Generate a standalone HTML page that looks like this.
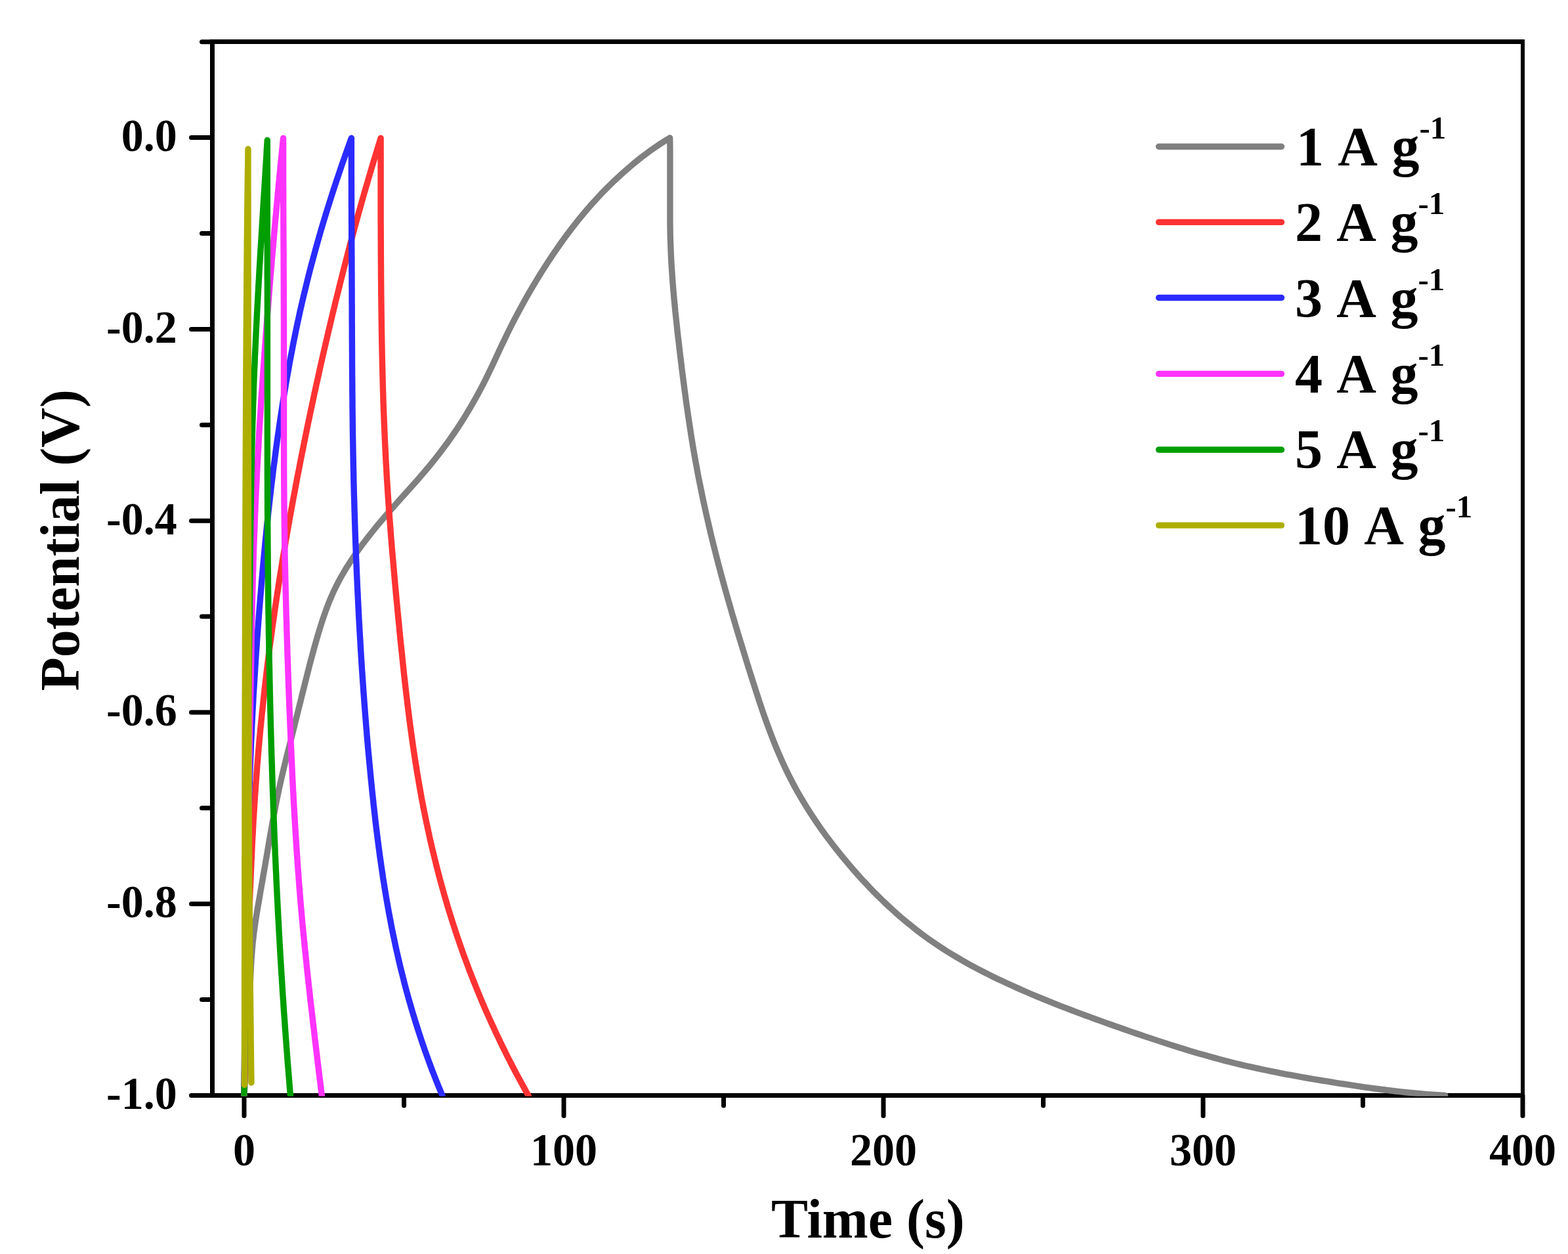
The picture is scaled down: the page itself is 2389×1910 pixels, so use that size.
<!DOCTYPE html>
<html lang="en"><head><meta charset="utf-8"><title>GCD curves</title>
<style>html,body{margin:0;padding:0;background:#fff;}body{width:2389px;height:1910px;overflow:hidden;}svg{display:block;}</style>
</head><body>
<svg width="2389" height="1910" viewBox="0 0 2389 1910">
<rect width="2389" height="1910" fill="#fff"/>
<g stroke="#000" stroke-width="7" fill="none" stroke-linecap="round">
<g stroke="none" fill="#000"><rect x="320" y="60" width="7" height="1612"/><rect x="320" y="60" width="2003" height="7"/><rect x="2317" y="60" width="6" height="1612"/><rect x="320" y="1665" width="2003" height="7"/></g>
<line x1="307.5" y1="63.7" x2="323.5" y2="63.7"/>
<line x1="291.5" y1="209.6" x2="323.5" y2="209.6"/>
<line x1="307.5" y1="355.5" x2="323.5" y2="355.5"/>
<line x1="291.5" y1="501.4" x2="323.5" y2="501.4"/>
<line x1="307.5" y1="647.3" x2="323.5" y2="647.3"/>
<line x1="291.5" y1="793.2" x2="323.5" y2="793.2"/>
<line x1="307.5" y1="939.1" x2="323.5" y2="939.1"/>
<line x1="291.5" y1="1084.9" x2="323.5" y2="1084.9"/>
<line x1="307.5" y1="1230.8" x2="323.5" y2="1230.8"/>
<line x1="291.5" y1="1376.7" x2="323.5" y2="1376.7"/>
<line x1="307.5" y1="1522.6" x2="323.5" y2="1522.6"/>
<line x1="291.5" y1="1668.5" x2="323.5" y2="1668.5"/>
<line x1="372.0" y1="1668.5" x2="372.0" y2="1699.5"/>
<line x1="615.5" y1="1668.5" x2="615.5" y2="1684.0"/>
<line x1="859.0" y1="1668.5" x2="859.0" y2="1699.5"/>
<line x1="1102.5" y1="1668.5" x2="1102.5" y2="1684.0"/>
<line x1="1346.0" y1="1668.5" x2="1346.0" y2="1699.5"/>
<line x1="1589.5" y1="1668.5" x2="1589.5" y2="1684.0"/>
<line x1="1833.0" y1="1668.5" x2="1833.0" y2="1699.5"/>
<line x1="2076.5" y1="1668.5" x2="2076.5" y2="1684.0"/>
<line x1="2320.0" y1="1668.5" x2="2320.0" y2="1699.5"/>
</g>
<clipPath id="pc"><rect x="323.5" y="63.5" width="1996.5" height="1606.2"/></clipPath>
<g fill="none" stroke-width="9.4" stroke-linecap="round" stroke-linejoin="round" clip-path="url(#pc)">
<path stroke="#808080" d="M372.0 1668.5 L372.5 1660.5 L373.0 1652.5 L373.5 1644.6 L373.9 1636.6 L374.4 1628.6 L374.8 1620.6 L375.2 1612.6 L375.6 1604.6 L376.0 1596.6 L376.4 1588.6 L376.8 1580.6 L377.3 1572.6 L377.7 1564.7 L378.2 1556.7 L378.6 1548.7 L379.1 1540.7 L379.5 1532.7 L379.9 1524.7 L380.3 1516.8 L380.7 1508.8 L381.1 1500.8 L381.4 1492.8 L381.8 1484.7 L382.2 1476.7 L382.6 1468.7 L383.1 1460.7 L383.7 1452.8 L384.3 1444.8 L385.0 1436.8 L385.9 1428.9 L386.8 1420.9 L387.9 1413.0 L389.0 1405.1 L390.2 1397.2 L391.5 1389.3 L392.8 1381.5 L394.2 1373.6 L395.6 1365.7 L396.9 1357.8 L398.3 1350.0 L399.7 1342.1 L401.0 1334.2 L402.4 1326.4 L403.8 1318.5 L405.1 1310.6 L406.5 1302.7 L407.8 1294.8 L409.2 1287.0 L410.5 1279.1 L411.9 1271.2 L413.3 1263.3 L414.7 1255.4 L416.1 1247.5 L417.6 1239.7 L419.1 1231.8 L420.6 1223.9 L422.1 1216.1 L423.8 1208.3 L425.4 1200.4 L427.2 1192.6 L428.9 1184.8 L430.8 1177.1 L432.6 1169.3 L434.5 1161.6 L436.4 1153.8 L438.4 1146.1 L440.3 1138.3 L442.3 1130.6 L444.2 1122.8 L446.2 1115.1 L448.1 1107.3 L450.0 1099.5 L452.0 1091.8 L453.9 1084.0 L455.8 1076.3 L457.8 1068.5 L459.7 1060.7 L461.6 1053.0 L463.6 1045.2 L465.5 1037.5 L467.5 1029.7 L469.4 1022.0 L471.4 1014.2 L473.4 1006.5 L475.5 998.8 L477.6 991.0 L479.7 983.3 L481.9 975.6 L484.1 967.9 L486.4 960.3 L488.8 952.6 L491.2 945.0 L493.8 937.4 L496.5 929.9 L499.3 922.4 L502.2 914.9 L505.3 907.6 L508.6 900.3 L512.1 893.1 L515.7 886.0 L519.5 879.0 L523.5 872.1 L527.6 865.2 L531.9 858.4 L536.3 851.7 L540.8 845.1 L545.4 838.6 L550.1 832.1 L554.9 825.7 L559.8 819.3 L564.7 813.1 L569.7 806.8 L574.8 800.6 L579.9 794.5 L585.1 788.4 L590.3 782.4 L595.6 776.3 L600.9 770.3 L606.2 764.4 L611.5 758.4 L616.9 752.5 L622.2 746.5 L627.6 740.5 L632.9 734.6 L638.2 728.6 L643.4 722.5 L648.6 716.4 L653.8 710.3 L658.8 704.1 L663.8 697.9 L668.7 691.6 L673.6 685.2 L678.4 678.8 L683.1 672.4 L687.7 665.8 L692.2 659.3 L696.7 652.6 L701.1 645.9 L705.4 639.2 L709.6 632.4 L713.7 625.5 L717.8 618.6 L721.8 611.7 L725.7 604.7 L729.5 597.7 L733.3 590.6 L737.0 583.5 L740.6 576.3 L744.1 569.2 L747.6 562.0 L751.0 554.7 L754.4 547.5 L757.8 540.3 L761.1 533.0 L764.5 525.8 L768.0 518.6 L771.4 511.4 L774.9 504.2 L778.5 497.0 L782.1 489.9 L785.8 482.8 L789.6 475.7 L793.4 468.7 L797.2 461.7 L801.1 454.7 L805.1 447.7 L809.1 440.8 L813.2 433.9 L817.3 427.1 L821.5 420.2 L825.7 413.4 L830.0 406.7 L834.3 400.0 L838.7 393.3 L843.2 386.7 L847.7 380.1 L852.3 373.5 L856.9 367.0 L861.6 360.5 L866.4 354.1 L871.3 347.7 L876.2 341.4 L881.1 335.1 L886.2 328.9 L891.3 322.8 L896.5 316.7 L901.8 310.7 L907.2 304.8 L912.6 298.9 L918.1 293.1 L923.7 287.4 L929.4 281.7 L935.1 276.2 L941.0 270.7 L946.9 265.3 L952.8 260.0 L958.9 254.7 L965.0 249.5 L971.2 244.5 L977.4 239.5 L983.8 234.7 L990.2 229.9 L996.8 225.3 L1003.4 220.8 L1010.1 216.5 L1016.9 212.2 L1020.7 210.0 M1020.7 210.0 L1020.8 218.0 L1020.9 226.0 L1020.9 234.0 L1020.9 242.0 L1020.9 250.0 L1020.9 258.0 L1020.9 266.0 L1020.9 274.0 L1020.9 282.0 L1020.9 290.0 L1020.9 298.0 L1020.9 306.0 L1020.9 314.0 L1020.9 322.0 L1020.9 330.0 L1020.9 338.0 L1021.0 346.0 L1021.1 354.0 L1021.3 362.0 L1021.6 370.0 L1021.9 378.0 L1022.2 386.0 L1022.6 394.0 L1023.0 402.0 L1023.5 409.9 L1024.1 417.9 L1024.6 425.9 L1025.2 433.9 L1025.9 441.9 L1026.6 449.8 L1027.3 457.8 L1028.1 465.8 L1028.8 473.7 L1029.7 481.7 L1030.5 489.6 L1031.4 497.6 L1032.2 505.5 L1033.1 513.5 L1034.1 521.4 L1035.0 529.4 L1035.9 537.3 L1036.9 545.3 L1037.9 553.2 L1038.8 561.2 L1039.8 569.1 L1040.8 577.0 L1041.9 585.0 L1042.9 592.9 L1044.0 600.8 L1045.0 608.7 L1046.1 616.7 L1047.3 624.6 L1048.4 632.5 L1049.6 640.4 L1050.8 648.3 L1052.0 656.2 L1053.2 664.1 L1054.5 672.0 L1055.8 679.9 L1057.1 687.8 L1058.5 695.6 L1059.9 703.5 L1061.4 711.4 L1062.8 719.3 L1064.3 727.1 L1065.9 735.0 L1067.5 742.8 L1069.1 750.7 L1070.7 758.5 L1072.4 766.4 L1074.1 774.2 L1075.8 782.0 L1077.6 789.8 L1079.4 797.6 L1081.2 805.4 L1083.0 813.2 L1084.9 821.0 L1086.8 828.8 L1088.8 836.5 L1090.7 844.3 L1092.7 852.0 L1094.7 859.8 L1096.8 867.5 L1098.8 875.2 L1100.9 882.9 L1103.0 890.6 L1105.1 898.3 L1107.3 906.0 L1109.5 913.7 L1111.7 921.4 L1113.9 929.0 L1116.1 936.7 L1118.4 944.4 L1120.6 952.0 L1122.9 959.7 L1125.2 967.3 L1127.5 974.9 L1129.9 982.6 L1132.2 990.2 L1134.6 997.9 L1136.9 1005.5 L1139.3 1013.2 L1141.7 1020.8 L1144.1 1028.5 L1146.5 1036.1 L1149.0 1043.8 L1151.4 1051.4 L1153.9 1059.0 L1156.4 1066.7 L1158.9 1074.3 L1161.5 1081.9 L1164.1 1089.5 L1166.8 1097.1 L1169.5 1104.6 L1172.3 1112.1 L1175.1 1119.6 L1178.0 1127.1 L1181.0 1134.5 L1184.0 1141.9 L1187.2 1149.3 L1190.4 1156.6 L1193.6 1163.8 L1197.0 1171.1 L1200.5 1178.3 L1204.1 1185.4 L1207.8 1192.5 L1211.5 1199.5 L1215.4 1206.5 L1219.4 1213.4 L1223.4 1220.2 L1227.6 1227.1 L1231.8 1233.8 L1236.1 1240.5 L1240.5 1247.2 L1245.0 1253.8 L1249.5 1260.4 L1254.2 1266.9 L1258.9 1273.4 L1263.7 1279.8 L1268.5 1286.2 L1273.5 1292.5 L1278.4 1298.7 L1283.5 1305.0 L1288.6 1311.1 L1293.8 1317.3 L1299.0 1323.3 L1304.3 1329.4 L1309.6 1335.3 L1315.0 1341.3 L1320.5 1347.1 L1326.0 1352.9 L1331.6 1358.7 L1337.3 1364.4 L1343.0 1370.0 L1348.7 1375.5 L1354.6 1381.0 L1360.5 1386.4 L1366.4 1391.7 L1372.4 1397.0 L1378.5 1402.1 L1384.7 1407.2 L1390.9 1412.2 L1397.2 1417.2 L1403.5 1422.0 L1409.9 1426.7 L1416.4 1431.4 L1423.0 1435.9 L1429.6 1440.4 L1436.3 1444.8 L1443.0 1449.1 L1449.8 1453.3 L1456.7 1457.4 L1463.6 1461.4 L1470.5 1465.4 L1477.5 1469.3 L1484.6 1473.1 L1491.6 1476.8 L1498.8 1480.5 L1505.9 1484.1 L1513.1 1487.7 L1520.3 1491.2 L1527.6 1494.6 L1534.9 1498.0 L1542.2 1501.3 L1549.5 1504.6 L1556.8 1507.9 L1564.1 1511.0 L1571.5 1514.2 L1578.9 1517.3 L1586.3 1520.4 L1593.7 1523.4 L1601.1 1526.4 L1608.5 1529.4 L1615.9 1532.3 L1623.4 1535.2 L1630.8 1538.0 L1638.3 1540.9 L1645.8 1543.7 L1653.3 1546.5 L1660.8 1549.2 L1668.3 1552.0 L1675.8 1554.7 L1683.3 1557.4 L1690.8 1560.0 L1698.4 1562.7 L1705.9 1565.3 L1713.5 1568.0 L1721.0 1570.6 L1728.6 1573.2 L1736.2 1575.8 L1743.7 1578.4 L1751.3 1580.9 L1758.9 1583.4 L1766.5 1585.9 L1774.1 1588.4 L1781.8 1590.9 L1789.4 1593.3 L1797.0 1595.7 L1804.7 1598.1 L1812.4 1600.4 L1820.0 1602.7 L1827.7 1604.9 L1835.4 1607.1 L1843.1 1609.3 L1850.8 1611.4 L1858.6 1613.5 L1866.3 1615.6 L1874.0 1617.5 L1881.8 1619.5 L1889.6 1621.3 L1897.4 1623.2 L1905.1 1624.9 L1912.9 1626.7 L1920.8 1628.4 L1928.6 1630.0 L1936.4 1631.6 L1944.3 1633.2 L1952.1 1634.8 L1960.0 1636.3 L1967.8 1637.7 L1975.7 1639.2 L1983.6 1640.6 L1991.4 1642.0 L1999.3 1643.3 L2007.2 1644.6 L2015.1 1646.0 L2023.0 1647.2 L2030.9 1648.5 L2038.8 1649.8 L2046.7 1651.0 L2054.6 1652.2 L2062.5 1653.4 L2070.5 1654.6 L2078.4 1655.8 L2086.3 1656.9 L2094.2 1658.0 L2102.2 1659.0 L2110.1 1660.0 L2118.0 1661.0 L2126.0 1662.0 L2133.9 1662.9 L2141.9 1663.7 L2149.8 1664.5 L2157.8 1665.3 L2165.8 1666.0 L2173.7 1666.6 L2181.7 1667.2 L2189.7 1667.7 L2197.7 1668.2 L2201.7 1668.4"/>
<path stroke="#FF3333" d="M372.0 1668.5 L372.2 1660.5 L372.4 1652.5 L372.6 1644.5 L372.8 1636.5 L373.0 1628.5 L373.2 1620.5 L373.4 1612.5 L373.6 1604.5 L373.8 1596.5 L374.0 1588.5 L374.2 1580.5 L374.4 1572.5 L374.6 1564.5 L374.8 1556.5 L375.1 1548.5 L375.3 1540.5 L375.5 1532.5 L375.7 1524.5 L375.9 1516.5 L376.2 1508.6 L376.4 1500.6 L376.6 1492.6 L376.9 1484.6 L377.1 1476.6 L377.3 1468.6 L377.6 1460.6 L377.8 1452.6 L378.1 1444.6 L378.3 1436.6 L378.6 1428.6 L378.9 1420.6 L379.1 1412.6 L379.4 1404.6 L379.7 1396.6 L380.0 1388.6 L380.2 1380.6 L380.5 1372.6 L380.8 1364.6 L381.1 1356.6 L381.5 1348.6 L381.8 1340.6 L382.1 1332.6 L382.5 1324.7 L382.8 1316.7 L383.2 1308.7 L383.6 1300.7 L383.9 1292.7 L384.3 1284.7 L384.7 1276.7 L385.2 1268.7 L385.6 1260.7 L386.0 1252.8 L386.5 1244.8 L387.0 1236.8 L387.5 1228.8 L388.0 1220.8 L388.5 1212.8 L389.1 1204.9 L389.6 1196.9 L390.2 1188.9 L390.8 1180.9 L391.4 1173.0 L392.0 1165.0 L392.7 1157.0 L393.3 1149.0 L394.0 1141.1 L394.7 1133.1 L395.4 1125.1 L396.2 1117.2 L396.9 1109.2 L397.7 1101.3 L398.5 1093.3 L399.3 1085.3 L400.2 1077.4 L401.0 1069.4 L401.9 1061.5 L402.7 1053.5 L403.6 1045.6 L404.6 1037.6 L405.5 1029.7 L406.4 1021.7 L407.4 1013.8 L408.4 1005.9 L409.4 997.9 L410.4 990.0 L411.4 982.1 L412.5 974.1 L413.6 966.2 L414.6 958.3 L415.7 950.4 L416.9 942.5 L418.0 934.6 L419.1 926.6 L420.3 918.7 L421.5 910.8 L422.7 902.9 L423.9 895.0 L425.1 887.1 L426.3 879.3 L427.6 871.4 L428.9 863.5 L430.1 855.6 L431.4 847.7 L432.8 839.8 L434.1 832.0 L435.4 824.1 L436.8 816.2 L438.1 808.3 L439.5 800.5 L440.9 792.6 L442.3 784.7 L443.7 776.9 L445.2 769.0 L446.6 761.2 L448.1 753.3 L449.6 745.5 L451.0 737.6 L452.5 729.7 L454.0 721.9 L455.6 714.1 L457.1 706.2 L458.6 698.4 L460.2 690.5 L461.8 682.7 L463.3 674.8 L464.9 667.0 L466.5 659.2 L468.1 651.3 L469.7 643.5 L471.4 635.7 L473.0 627.8 L474.7 620.0 L476.4 612.2 L478.0 604.4 L479.7 596.5 L481.4 588.7 L483.1 580.9 L484.9 573.1 L486.6 565.3 L488.3 557.5 L490.1 549.7 L491.9 541.8 L493.7 534.0 L495.5 526.2 L497.3 518.4 L499.1 510.7 L500.9 502.9 L502.8 495.1 L504.6 487.3 L506.5 479.5 L508.4 471.7 L510.2 464.0 L512.1 456.2 L514.1 448.4 L516.0 440.7 L517.9 432.9 L519.9 425.1 L521.8 417.4 L523.8 409.6 L525.8 401.9 L527.8 394.1 L529.8 386.4 L531.8 378.7 L533.9 370.9 L535.9 363.2 L538.0 355.5 L540.1 347.8 L542.2 340.0 L544.3 332.3 L546.4 324.6 L548.6 316.9 L550.7 309.2 L552.9 301.5 L555.1 293.8 L557.3 286.2 L559.6 278.5 L561.8 270.8 L564.1 263.1 L566.3 255.5 L568.6 247.8 L571.0 240.1 L573.3 232.5 L575.6 224.8 L578.0 217.2 L580.1 210.5 M580.1 210.5 L580.1 218.5 L580.1 226.5 L580.1 234.5 L580.1 242.5 L580.1 250.5 L580.1 258.5 L580.1 266.5 L580.1 274.5 L580.1 282.5 L580.1 290.5 L580.1 298.5 L580.1 306.5 L580.1 314.5 L580.1 322.5 L580.1 330.5 L580.1 338.5 L580.2 346.5 L580.2 354.5 L580.2 362.5 L580.3 370.5 L580.3 378.5 L580.3 386.5 L580.4 394.5 L580.4 402.5 L580.5 410.5 L580.5 418.5 L580.6 426.5 L580.7 434.5 L580.7 442.5 L580.8 450.5 L580.9 458.5 L581.0 466.5 L581.1 474.5 L581.2 482.5 L581.3 490.5 L581.4 498.5 L581.5 506.5 L581.7 514.5 L581.8 522.5 L582.0 530.5 L582.1 538.5 L582.3 546.5 L582.5 554.5 L582.7 562.5 L582.9 570.5 L583.1 578.5 L583.3 586.5 L583.5 594.5 L583.8 602.5 L584.0 610.5 L584.3 618.5 L584.6 626.5 L584.9 634.5 L585.2 642.5 L585.5 650.5 L585.9 658.5 L586.2 666.5 L586.6 674.5 L587.0 682.5 L587.4 690.5 L587.8 698.4 L588.2 706.4 L588.7 714.4 L589.1 722.4 L589.6 730.4 L590.1 738.4 L590.6 746.3 L591.1 754.3 L591.7 762.3 L592.2 770.3 L592.8 778.2 L593.4 786.2 L594.0 794.2 L594.6 802.1 L595.2 810.1 L595.8 818.1 L596.5 826.0 L597.1 834.0 L597.8 842.0 L598.5 849.9 L599.2 857.9 L599.9 865.9 L600.6 873.8 L601.3 881.8 L602.0 889.8 L602.7 897.7 L603.5 905.7 L604.2 913.6 L605.0 921.6 L605.7 929.6 L606.5 937.5 L607.3 945.5 L608.1 953.5 L608.8 961.4 L609.6 969.4 L610.4 977.4 L611.2 985.3 L612.1 993.3 L612.9 1001.3 L613.7 1009.2 L614.6 1017.2 L615.4 1025.2 L616.3 1033.1 L617.2 1041.1 L618.1 1049.1 L619.0 1057.0 L620.0 1065.0 L620.9 1072.9 L621.9 1080.9 L622.9 1088.8 L623.9 1096.8 L624.9 1104.7 L626.0 1112.6 L627.1 1120.6 L628.2 1128.5 L629.3 1136.4 L630.5 1144.3 L631.7 1152.2 L632.9 1160.2 L634.2 1168.1 L635.4 1175.9 L636.8 1183.8 L638.1 1191.7 L639.5 1199.6 L640.9 1207.5 L642.3 1215.3 L643.8 1223.2 L645.3 1231.0 L646.9 1238.8 L648.5 1246.7 L650.1 1254.5 L651.8 1262.3 L653.5 1270.1 L655.2 1277.9 L657.0 1285.7 L658.8 1293.5 L660.7 1301.2 L662.6 1309.0 L664.5 1316.7 L666.5 1324.5 L668.5 1332.2 L670.5 1339.9 L672.6 1347.6 L674.8 1355.3 L676.9 1363.0 L679.2 1370.7 L681.4 1378.4 L683.7 1386.0 L686.1 1393.6 L688.5 1401.3 L690.9 1408.9 L693.4 1416.5 L695.9 1424.1 L698.5 1431.7 L701.1 1439.2 L703.7 1446.8 L706.4 1454.3 L709.2 1461.9 L712.0 1469.4 L714.8 1476.9 L717.7 1484.3 L720.6 1491.8 L723.6 1499.3 L726.6 1506.7 L729.6 1514.1 L732.7 1521.5 L735.8 1528.9 L739.0 1536.3 L742.2 1543.6 L745.5 1550.9 L748.8 1558.2 L752.2 1565.5 L755.5 1572.8 L759.0 1580.0 L762.4 1587.2 L765.9 1594.4 L769.5 1601.6 L773.0 1608.8 L776.7 1615.9 L780.3 1623.0 L784.0 1630.1 L787.7 1637.1 L791.5 1644.1 L795.3 1651.1 L799.2 1658.1 L803.0 1665.1 L805.2 1668.9"/>
<path stroke="#2B2BFF" d="M372.0 1668.5 L372.0 1660.5 L372.1 1652.5 L372.2 1644.5 L372.2 1636.5 L372.3 1628.5 L372.4 1620.5 L372.5 1612.5 L372.6 1604.5 L372.7 1596.5 L372.8 1588.5 L373.0 1580.5 L373.1 1572.5 L373.2 1564.5 L373.4 1556.5 L373.5 1548.5 L373.6 1540.5 L373.8 1532.5 L373.9 1524.5 L374.1 1516.5 L374.2 1508.5 L374.4 1500.5 L374.5 1492.5 L374.7 1484.5 L374.8 1476.5 L375.0 1468.5 L375.2 1460.5 L375.3 1452.5 L375.4 1444.5 L375.6 1436.5 L375.7 1428.5 L375.9 1420.5 L376.0 1412.5 L376.1 1404.5 L376.3 1396.5 L376.4 1388.5 L376.5 1380.5 L376.6 1372.5 L376.8 1364.5 L376.9 1356.5 L377.0 1348.5 L377.1 1340.5 L377.2 1332.5 L377.4 1324.5 L377.5 1316.5 L377.6 1308.5 L377.8 1300.5 L377.9 1292.5 L378.1 1284.5 L378.2 1276.5 L378.4 1268.5 L378.5 1260.6 L378.7 1252.6 L378.9 1244.6 L379.1 1236.6 L379.3 1228.6 L379.5 1220.6 L379.7 1212.6 L379.9 1204.6 L380.2 1196.6 L380.4 1188.6 L380.7 1180.6 L381.0 1172.6 L381.3 1164.6 L381.6 1156.6 L381.9 1148.6 L382.2 1140.6 L382.5 1132.6 L382.9 1124.6 L383.3 1116.6 L383.6 1108.6 L384.0 1100.6 L384.4 1092.7 L384.8 1084.7 L385.3 1076.7 L385.7 1068.7 L386.1 1060.7 L386.6 1052.7 L387.1 1044.7 L387.6 1036.7 L388.1 1028.8 L388.6 1020.8 L389.1 1012.8 L389.6 1004.8 L390.1 996.8 L390.7 988.8 L391.2 980.9 L391.8 972.9 L392.4 964.9 L393.0 956.9 L393.6 948.9 L394.2 941.0 L394.8 933.0 L395.4 925.0 L396.1 917.0 L396.7 909.1 L397.4 901.1 L398.1 893.1 L398.7 885.2 L399.4 877.2 L400.1 869.2 L400.8 861.3 L401.6 853.3 L402.3 845.3 L403.1 837.4 L403.8 829.4 L404.6 821.5 L405.4 813.5 L406.2 805.5 L407.0 797.6 L407.9 789.6 L408.7 781.7 L409.6 773.7 L410.5 765.8 L411.4 757.8 L412.3 749.9 L413.2 742.0 L414.2 734.0 L415.2 726.1 L416.1 718.1 L417.1 710.2 L418.2 702.3 L419.2 694.3 L420.2 686.4 L421.3 678.5 L422.4 670.5 L423.5 662.6 L424.7 654.7 L425.8 646.8 L427.0 638.9 L428.2 630.9 L429.4 623.0 L430.6 615.1 L431.9 607.2 L433.2 599.3 L434.5 591.4 L435.8 583.5 L437.2 575.6 L438.6 567.8 L440.0 559.9 L441.4 552.0 L442.9 544.1 L444.4 536.3 L445.9 528.4 L447.4 520.6 L449.0 512.7 L450.6 504.9 L452.2 497.1 L453.9 489.2 L455.6 481.4 L457.3 473.6 L459.1 465.8 L460.9 458.0 L462.7 450.2 L464.6 442.5 L466.5 434.7 L468.4 426.9 L470.3 419.2 L472.3 411.4 L474.3 403.7 L476.4 396.0 L478.5 388.3 L480.6 380.6 L482.7 372.9 L484.9 365.2 L487.1 357.5 L489.3 349.8 L491.6 342.1 L493.9 334.5 L496.2 326.8 L498.6 319.2 L501.0 311.6 L503.4 303.9 L505.8 296.3 L508.3 288.7 L510.8 281.1 L513.3 273.5 L515.9 265.9 L518.4 258.4 L521.0 250.8 L523.7 243.2 L526.3 235.7 L529.0 228.2 L531.7 220.6 L534.4 213.1 L535.4 210.5 M535.4 210.5 L535.4 218.5 L535.4 226.5 L535.4 234.5 L535.4 242.5 L535.4 250.5 L535.4 258.5 L535.4 266.5 L535.4 274.5 L535.5 282.5 L535.5 290.5 L535.5 298.5 L535.5 306.5 L535.5 314.5 L535.6 322.5 L535.6 330.5 L535.6 338.5 L535.7 346.5 L535.7 354.5 L535.7 362.5 L535.7 370.5 L535.8 378.5 L535.8 386.5 L535.9 394.5 L535.9 402.5 L535.9 410.5 L536.0 418.5 L536.0 426.5 L536.0 434.5 L536.1 442.5 L536.1 450.5 L536.1 458.5 L536.2 466.5 L536.2 474.5 L536.2 482.5 L536.2 490.5 L536.3 498.5 L536.3 506.5 L536.3 514.5 L536.4 522.5 L536.4 530.5 L536.5 538.5 L536.5 546.5 L536.5 554.5 L536.6 562.5 L536.6 570.5 L536.7 578.5 L536.8 586.5 L536.8 594.5 L536.9 602.5 L537.0 610.5 L537.0 618.5 L537.1 626.5 L537.2 634.5 L537.3 642.5 L537.4 650.5 L537.5 658.5 L537.6 666.5 L537.8 674.5 L537.9 682.5 L538.0 690.5 L538.2 698.5 L538.3 706.5 L538.5 714.5 L538.7 722.5 L538.8 730.5 L539.0 738.5 L539.2 746.5 L539.4 754.5 L539.7 762.5 L539.9 770.5 L540.1 778.5 L540.4 786.5 L540.6 794.5 L540.9 802.4 L541.1 810.4 L541.4 818.4 L541.7 826.4 L542.0 834.4 L542.3 842.4 L542.6 850.4 L543.0 858.4 L543.3 866.4 L543.6 874.4 L544.0 882.4 L544.3 890.4 L544.7 898.3 L545.1 906.3 L545.5 914.3 L545.9 922.3 L546.3 930.3 L546.7 938.3 L547.1 946.3 L547.6 954.3 L548.0 962.3 L548.5 970.2 L549.0 978.2 L549.4 986.2 L549.9 994.2 L550.4 1002.2 L550.9 1010.2 L551.4 1018.2 L552.0 1026.2 L552.5 1034.1 L553.1 1042.1 L553.6 1050.1 L554.2 1058.1 L554.8 1066.1 L555.4 1074.1 L556.0 1082.0 L556.6 1090.0 L557.3 1098.0 L557.9 1106.0 L558.6 1113.9 L559.2 1121.9 L559.9 1129.9 L560.6 1137.9 L561.3 1145.8 L562.1 1153.8 L562.8 1161.8 L563.6 1169.7 L564.3 1177.7 L565.1 1185.7 L565.9 1193.6 L566.7 1201.6 L567.5 1209.5 L568.4 1217.5 L569.2 1225.4 L570.1 1233.4 L571.0 1241.3 L571.9 1249.3 L572.8 1257.2 L573.8 1265.1 L574.8 1273.1 L575.8 1281.0 L576.8 1288.9 L577.9 1296.9 L578.9 1304.8 L580.1 1312.7 L581.2 1320.6 L582.4 1328.5 L583.5 1336.4 L584.8 1344.3 L586.0 1352.2 L587.3 1360.1 L588.6 1368.0 L590.0 1375.8 L591.4 1383.7 L592.8 1391.6 L594.3 1399.4 L595.8 1407.3 L597.3 1415.1 L598.9 1423.0 L600.6 1430.8 L602.2 1438.6 L603.9 1446.5 L605.7 1454.3 L607.5 1462.1 L609.3 1469.9 L611.2 1477.7 L613.2 1485.4 L615.1 1493.2 L617.1 1501.0 L619.2 1508.7 L621.3 1516.4 L623.5 1524.2 L625.7 1531.9 L627.9 1539.5 L630.2 1547.2 L632.6 1554.9 L635.0 1562.5 L637.4 1570.2 L639.9 1577.8 L642.4 1585.4 L645.0 1592.9 L647.6 1600.5 L650.3 1608.0 L653.0 1615.5 L655.8 1623.0 L658.6 1630.5 L661.5 1637.9 L664.4 1645.4 L667.4 1652.8 L670.4 1660.1 L673.5 1667.5 L674.1 1668.9"/>
<path stroke="#FF33FF" d="M372.0 1668.5 L372.1 1660.5 L372.3 1652.5 L372.4 1644.5 L372.5 1636.5 L372.7 1628.5 L372.8 1620.5 L372.9 1612.5 L373.0 1604.5 L373.2 1596.5 L373.3 1588.5 L373.4 1580.5 L373.5 1572.5 L373.6 1564.5 L373.7 1556.5 L373.8 1548.5 L374.0 1540.5 L374.1 1532.5 L374.2 1524.5 L374.3 1516.5 L374.4 1508.5 L374.5 1500.5 L374.6 1492.5 L374.7 1484.5 L374.8 1476.5 L374.9 1468.5 L375.0 1460.5 L375.1 1452.5 L375.3 1444.5 L375.4 1436.5 L375.5 1428.5 L375.6 1420.5 L375.7 1412.5 L375.8 1404.5 L375.9 1396.5 L376.0 1388.5 L376.2 1380.5 L376.3 1372.5 L376.4 1364.5 L376.5 1356.5 L376.7 1348.5 L376.8 1340.5 L376.9 1332.5 L377.0 1324.5 L377.2 1316.5 L377.3 1308.5 L377.4 1300.5 L377.6 1292.5 L377.7 1284.5 L377.8 1276.5 L378.0 1268.5 L378.1 1260.5 L378.3 1252.5 L378.4 1244.5 L378.5 1236.6 L378.7 1228.6 L378.8 1220.6 L379.0 1212.6 L379.1 1204.6 L379.2 1196.6 L379.4 1188.6 L379.5 1180.6 L379.7 1172.6 L379.8 1164.6 L380.0 1156.6 L380.1 1148.6 L380.2 1140.6 L380.4 1132.6 L380.5 1124.6 L380.7 1116.6 L380.8 1108.6 L380.9 1100.6 L381.1 1092.6 L381.2 1084.6 L381.4 1076.6 L381.5 1068.6 L381.6 1060.6 L381.8 1052.6 L381.9 1044.6 L382.0 1036.6 L382.2 1028.6 L382.3 1020.6 L382.5 1012.6 L382.6 1004.6 L382.8 996.6 L382.9 988.6 L383.1 980.6 L383.2 972.6 L383.4 964.6 L383.5 956.6 L383.7 948.6 L383.9 940.6 L384.0 932.6 L384.2 924.6 L384.4 916.6 L384.6 908.6 L384.8 900.6 L385.0 892.6 L385.2 884.6 L385.4 876.6 L385.7 868.6 L385.9 860.6 L386.1 852.6 L386.4 844.6 L386.6 836.6 L386.9 828.6 L387.2 820.6 L387.5 812.6 L387.8 804.7 L388.1 796.7 L388.4 788.7 L388.7 780.7 L389.1 772.7 L389.4 764.7 L389.8 756.7 L390.1 748.7 L390.5 740.7 L390.9 732.7 L391.3 724.7 L391.7 716.8 L392.1 708.8 L392.6 700.8 L393.0 692.8 L393.5 684.8 L393.9 676.8 L394.4 668.8 L394.8 660.8 L395.3 652.9 L395.8 644.9 L396.3 636.9 L396.8 628.9 L397.3 620.9 L397.8 612.9 L398.3 604.9 L398.9 597.0 L399.4 589.0 L400.0 581.0 L400.5 573.0 L401.1 565.0 L401.6 557.1 L402.2 549.1 L402.8 541.1 L403.4 533.1 L404.0 525.1 L404.6 517.2 L405.2 509.2 L405.8 501.2 L406.4 493.2 L407.0 485.3 L407.6 477.3 L408.2 469.3 L408.9 461.3 L409.5 453.4 L410.2 445.4 L410.8 437.4 L411.5 429.4 L412.1 421.5 L412.8 413.5 L413.5 405.5 L414.1 397.5 L414.8 389.6 L415.5 381.6 L416.2 373.6 L416.9 365.7 L417.6 357.7 L418.3 349.7 L419.0 341.8 L419.7 333.8 L420.5 325.8 L421.2 317.9 L421.9 309.9 L422.7 301.9 L423.4 294.0 L424.2 286.0 L424.9 278.0 L425.7 270.1 L426.5 262.1 L427.2 254.1 L428.0 246.2 L428.8 238.2 L429.6 230.3 L430.4 222.3 L431.2 214.3 L431.6 210.5 M431.6 210.5 L431.6 218.5 L431.6 226.5 L431.6 234.5 L431.6 242.5 L431.6 250.5 L431.6 258.5 L431.6 266.5 L431.6 274.5 L431.6 282.5 L431.7 290.5 L431.7 298.5 L431.7 306.5 L431.7 314.5 L431.8 322.5 L431.8 330.5 L431.8 338.5 L431.9 346.5 L431.9 354.5 L431.9 362.5 L432.0 370.5 L432.0 378.5 L432.1 386.5 L432.1 394.5 L432.1 402.5 L432.2 410.5 L432.2 418.5 L432.2 426.5 L432.3 434.5 L432.3 442.5 L432.3 450.5 L432.4 458.5 L432.4 466.5 L432.4 474.5 L432.4 482.5 L432.5 490.5 L432.5 498.5 L432.5 506.5 L432.5 514.5 L432.5 522.5 L432.5 530.5 L432.5 538.5 L432.5 546.5 L432.5 554.5 L432.5 562.5 L432.5 570.5 L432.5 578.5 L432.5 586.5 L432.5 594.5 L432.5 602.5 L432.5 610.5 L432.5 618.5 L432.5 626.5 L432.5 634.5 L432.5 642.5 L432.5 650.5 L432.5 658.5 L432.5 666.5 L432.5 674.5 L432.5 682.5 L432.6 690.5 L432.6 698.5 L432.6 706.5 L432.6 714.5 L432.7 722.5 L432.7 730.5 L432.8 738.5 L432.8 746.5 L432.9 754.5 L432.9 762.5 L433.0 770.5 L433.1 778.5 L433.2 786.5 L433.3 794.5 L433.4 802.5 L433.5 810.5 L433.6 818.5 L433.7 826.5 L433.9 834.5 L434.0 842.5 L434.1 850.5 L434.3 858.5 L434.5 866.5 L434.6 874.5 L434.8 882.5 L435.0 890.5 L435.2 898.5 L435.4 906.5 L435.6 914.5 L435.8 922.5 L436.0 930.5 L436.2 938.5 L436.5 946.5 L436.7 954.4 L436.9 962.4 L437.2 970.4 L437.4 978.4 L437.7 986.4 L437.9 994.4 L438.2 1002.4 L438.5 1010.4 L438.8 1018.4 L439.0 1026.4 L439.3 1034.4 L439.6 1042.4 L439.9 1050.4 L440.2 1058.4 L440.5 1066.4 L440.8 1074.4 L441.2 1082.4 L441.5 1090.4 L441.8 1098.4 L442.1 1106.4 L442.5 1114.3 L442.8 1122.3 L443.1 1130.3 L443.5 1138.3 L443.9 1146.3 L444.2 1154.3 L444.6 1162.3 L445.0 1170.3 L445.3 1178.3 L445.7 1186.3 L446.1 1194.3 L446.5 1202.3 L447.0 1210.3 L447.4 1218.2 L447.8 1226.2 L448.3 1234.2 L448.7 1242.2 L449.2 1250.2 L449.7 1258.2 L450.2 1266.2 L450.7 1274.1 L451.2 1282.1 L451.7 1290.1 L452.2 1298.1 L452.8 1306.1 L453.3 1314.1 L453.9 1322.0 L454.5 1330.0 L455.1 1338.0 L455.7 1346.0 L456.3 1353.9 L457.0 1361.9 L457.6 1369.9 L458.3 1377.9 L459.0 1385.8 L459.7 1393.8 L460.4 1401.8 L461.2 1409.7 L461.9 1417.7 L462.7 1425.7 L463.5 1433.6 L464.2 1441.6 L465.1 1449.5 L465.9 1457.5 L466.7 1465.4 L467.5 1473.4 L468.4 1481.4 L469.2 1489.3 L470.1 1497.3 L471.0 1505.2 L471.9 1513.2 L472.7 1521.1 L473.6 1529.1 L474.6 1537.0 L475.5 1545.0 L476.4 1552.9 L477.3 1560.9 L478.3 1568.8 L479.2 1576.8 L480.1 1584.7 L481.1 1592.6 L482.0 1600.6 L483.0 1608.5 L483.9 1616.5 L484.9 1624.4 L485.9 1632.4 L486.8 1640.3 L487.8 1648.2 L488.8 1656.2 L489.7 1664.1 L490.3 1668.9"/>
<path stroke="#009E00" d="M372.0 1668.5 L372.1 1660.5 L372.2 1652.5 L372.3 1644.5 L372.4 1636.5 L372.6 1628.5 L372.7 1620.5 L372.8 1612.5 L372.9 1604.5 L372.9 1596.5 L373.0 1588.5 L373.1 1580.5 L373.2 1572.5 L373.3 1564.5 L373.4 1556.5 L373.5 1548.5 L373.6 1540.5 L373.6 1532.5 L373.7 1524.5 L373.8 1516.5 L373.9 1508.5 L374.0 1500.5 L374.0 1492.5 L374.1 1484.5 L374.2 1476.5 L374.3 1468.5 L374.3 1460.5 L374.4 1452.5 L374.5 1444.5 L374.6 1436.5 L374.6 1428.5 L374.7 1420.5 L374.8 1412.5 L374.8 1404.5 L374.9 1396.5 L375.0 1388.5 L375.1 1380.5 L375.1 1372.5 L375.2 1364.5 L375.3 1356.5 L375.4 1348.5 L375.4 1340.5 L375.5 1332.5 L375.6 1324.5 L375.7 1316.5 L375.8 1308.5 L375.8 1300.5 L375.9 1292.5 L376.0 1284.5 L376.1 1276.5 L376.2 1268.5 L376.3 1260.5 L376.4 1252.5 L376.5 1244.5 L376.6 1236.5 L376.7 1228.5 L376.7 1220.5 L376.8 1212.5 L376.9 1204.5 L377.0 1196.5 L377.1 1188.5 L377.2 1180.5 L377.3 1172.5 L377.4 1164.5 L377.5 1156.5 L377.6 1148.5 L377.7 1140.5 L377.8 1132.5 L377.9 1124.5 L378.0 1116.5 L378.1 1108.5 L378.2 1100.5 L378.3 1092.5 L378.4 1084.5 L378.5 1076.5 L378.6 1068.5 L378.7 1060.5 L378.8 1052.5 L378.9 1044.5 L379.0 1036.5 L379.1 1028.5 L379.2 1020.5 L379.3 1012.5 L379.4 1004.5 L379.5 996.5 L379.6 988.5 L379.7 980.5 L379.8 972.5 L379.9 964.5 L380.0 956.5 L380.1 948.5 L380.2 940.5 L380.3 932.5 L380.4 924.5 L380.4 916.5 L380.5 908.5 L380.6 900.5 L380.7 892.5 L380.8 884.5 L380.9 876.5 L381.0 868.5 L381.0 860.5 L381.1 852.5 L381.2 844.5 L381.3 836.5 L381.4 828.5 L381.5 820.5 L381.6 812.5 L381.7 804.5 L381.8 796.5 L381.9 788.6 L382.1 780.6 L382.2 772.6 L382.3 764.6 L382.4 756.6 L382.6 748.6 L382.7 740.6 L382.8 732.6 L383.0 724.6 L383.1 716.6 L383.3 708.6 L383.5 700.6 L383.6 692.6 L383.8 684.6 L384.0 676.6 L384.2 668.6 L384.4 660.6 L384.6 652.6 L384.8 644.6 L385.1 636.6 L385.3 628.6 L385.5 620.6 L385.8 612.6 L386.1 604.6 L386.3 596.6 L386.6 588.6 L386.9 580.6 L387.2 572.6 L387.5 564.7 L387.9 556.7 L388.2 548.7 L388.5 540.7 L388.9 532.7 L389.3 524.7 L389.6 516.7 L390.0 508.7 L390.4 500.7 L390.8 492.7 L391.2 484.7 L391.6 476.7 L392.0 468.8 L392.5 460.8 L392.9 452.8 L393.3 444.8 L393.8 436.8 L394.2 428.8 L394.7 420.8 L395.1 412.8 L395.6 404.9 L396.1 396.9 L396.5 388.9 L397.0 380.9 L397.5 372.9 L398.0 364.9 L398.5 356.9 L399.0 348.9 L399.4 341.0 L399.9 333.0 L400.4 325.0 L400.9 317.0 L401.4 309.0 L401.9 301.0 L402.4 293.0 L402.9 285.1 L403.4 277.1 L403.9 269.1 L404.4 261.1 L404.9 253.1 L405.4 245.1 L405.9 237.2 L406.3 229.2 L406.8 221.2 L407.3 213.5 M407.3 213.5 L407.3 221.5 L407.3 229.5 L407.3 237.5 L407.3 245.5 L407.3 253.5 L407.3 261.5 L407.3 269.5 L407.3 277.5 L407.3 285.5 L407.3 293.5 L407.3 301.5 L407.3 309.5 L407.3 317.5 L407.3 325.5 L407.3 333.5 L407.3 341.5 L407.3 349.5 L407.3 357.5 L407.3 365.5 L407.3 373.5 L407.3 381.5 L407.3 389.5 L407.3 397.5 L407.3 405.5 L407.3 413.5 L407.3 421.5 L407.4 429.5 L407.4 437.5 L407.4 445.5 L407.4 453.5 L407.4 461.5 L407.4 469.5 L407.4 477.5 L407.4 485.5 L407.4 493.5 L407.4 501.5 L407.4 509.5 L407.4 517.5 L407.4 525.5 L407.4 533.5 L407.4 541.5 L407.4 549.5 L407.4 557.5 L407.4 565.5 L407.4 573.5 L407.4 581.5 L407.4 589.5 L407.4 597.5 L407.4 605.5 L407.4 613.5 L407.4 621.5 L407.4 629.5 L407.4 637.5 L407.4 645.5 L407.4 653.5 L407.4 661.5 L407.4 669.5 L407.4 677.5 L407.4 685.5 L407.4 693.5 L407.4 701.5 L407.4 709.5 L407.4 717.5 L407.4 725.5 L407.5 733.5 L407.5 741.5 L407.5 749.5 L407.5 757.5 L407.6 765.5 L407.6 773.5 L407.6 781.5 L407.7 789.5 L407.7 797.5 L407.8 805.5 L407.8 813.5 L407.9 821.5 L407.9 829.5 L408.0 837.5 L408.1 845.5 L408.1 853.5 L408.2 861.5 L408.3 869.5 L408.4 877.5 L408.4 885.5 L408.5 893.5 L408.6 901.5 L408.7 909.5 L408.8 917.5 L408.9 925.5 L409.0 933.5 L409.2 941.5 L409.3 949.5 L409.4 957.5 L409.5 965.5 L409.7 973.5 L409.8 981.5 L409.9 989.5 L410.1 997.5 L410.2 1005.5 L410.4 1013.5 L410.6 1021.5 L410.7 1029.5 L410.9 1037.5 L411.1 1045.5 L411.2 1053.5 L411.4 1061.5 L411.6 1069.5 L411.8 1077.5 L412.0 1085.5 L412.2 1093.5 L412.4 1101.4 L412.6 1109.4 L412.8 1117.4 L413.1 1125.4 L413.3 1133.4 L413.5 1141.4 L413.8 1149.4 L414.0 1157.4 L414.3 1165.4 L414.5 1173.4 L414.8 1181.4 L415.0 1189.4 L415.3 1197.4 L415.6 1205.4 L415.9 1213.4 L416.2 1221.4 L416.4 1229.4 L416.7 1237.4 L417.0 1245.4 L417.4 1253.4 L417.7 1261.4 L418.0 1269.4 L418.3 1277.4 L418.7 1285.3 L419.0 1293.3 L419.3 1301.3 L419.7 1309.3 L420.0 1317.3 L420.4 1325.3 L420.8 1333.3 L421.1 1341.3 L421.5 1349.3 L421.9 1357.3 L422.3 1365.3 L422.7 1373.3 L423.1 1381.2 L423.5 1389.2 L423.9 1397.2 L424.4 1405.2 L424.8 1413.2 L425.2 1421.2 L425.7 1429.2 L426.1 1437.2 L426.6 1445.1 L427.0 1453.1 L427.5 1461.1 L428.0 1469.1 L428.5 1477.1 L429.0 1485.1 L429.5 1493.1 L430.0 1501.0 L430.5 1509.0 L431.0 1517.0 L431.6 1525.0 L432.1 1533.0 L432.6 1540.9 L433.2 1548.9 L433.8 1556.9 L434.3 1564.9 L434.9 1572.9 L435.5 1580.8 L436.1 1588.8 L436.7 1596.8 L437.3 1604.8 L437.9 1612.8 L438.5 1620.7 L439.2 1628.7 L439.8 1636.7 L440.5 1644.7 L441.1 1652.6 L441.8 1660.6 L442.5 1668.6 L442.5 1668.9"/>
<path stroke="#AEAE00" d="M372.5 1652.5 L372.5 1644.5 L372.5 1636.5 L372.5 1628.5 L372.5 1620.5 L372.5 1612.5 L372.5 1604.5 L372.5 1596.5 L372.5 1588.5 L372.5 1580.5 L372.5 1572.5 L372.6 1564.5 L372.6 1556.5 L372.6 1548.5 L372.6 1540.5 L372.6 1532.5 L372.6 1524.5 L372.6 1516.5 L372.6 1508.5 L372.6 1500.5 L372.6 1492.5 L372.6 1484.5 L372.6 1476.5 L372.6 1468.5 L372.7 1460.5 L372.7 1452.5 L372.7 1444.5 L372.7 1436.5 L372.7 1428.5 L372.7 1420.5 L372.7 1412.5 L372.7 1404.5 L372.7 1396.5 L372.7 1388.5 L372.7 1380.5 L372.8 1372.5 L372.8 1364.5 L372.8 1356.5 L372.8 1348.5 L372.8 1340.5 L372.8 1332.5 L372.8 1324.5 L372.8 1316.5 L372.8 1308.5 L372.9 1300.5 L372.9 1292.5 L372.9 1284.5 L372.9 1276.5 L372.9 1268.5 L372.9 1260.5 L372.9 1252.5 L372.9 1244.5 L372.9 1236.5 L373.0 1228.5 L373.0 1220.5 L373.0 1212.5 L373.0 1204.5 L373.0 1196.5 L373.0 1188.5 L373.0 1180.5 L373.0 1172.5 L373.1 1164.5 L373.1 1156.5 L373.1 1148.5 L373.1 1140.5 L373.1 1132.5 L373.1 1124.5 L373.1 1116.5 L373.2 1108.5 L373.2 1100.5 L373.2 1092.5 L373.2 1084.5 L373.2 1076.5 L373.2 1068.5 L373.2 1060.5 L373.3 1052.5 L373.3 1044.5 L373.3 1036.5 L373.3 1028.5 L373.3 1020.5 L373.4 1012.5 L373.4 1004.5 L373.4 996.5 L373.4 988.5 L373.4 980.5 L373.4 972.5 L373.5 964.5 L373.5 956.5 L373.5 948.5 L373.5 940.5 L373.5 932.5 L373.6 924.5 L373.6 916.5 L373.6 908.5 L373.6 900.5 L373.7 892.5 L373.7 884.5 L373.7 876.5 L373.7 868.5 L373.7 860.5 L373.8 852.5 L373.8 844.5 L373.8 836.5 L373.8 828.5 L373.9 820.5 L373.9 812.5 L373.9 804.5 L373.9 796.5 L374.0 788.5 L374.0 780.5 L374.0 772.5 L374.1 764.5 L374.1 756.5 L374.1 748.5 L374.1 740.5 L374.2 732.5 L374.2 724.5 L374.2 716.5 L374.3 708.5 L374.3 700.5 L374.3 692.5 L374.4 684.5 L374.4 676.5 L374.4 668.5 L374.5 660.5 L374.5 652.5 L374.5 644.5 L374.6 636.5 L374.6 628.5 L374.6 620.5 L374.7 612.5 L374.7 604.5 L374.8 596.5 L374.8 588.5 L374.8 580.5 L374.9 572.5 L374.9 564.5 L375.0 556.5 L375.0 548.5 L375.1 540.5 L375.1 532.5 L375.2 524.5 L375.2 516.5 L375.3 508.5 L375.3 500.5 L375.4 492.5 L375.4 484.5 L375.5 476.5 L375.5 468.5 L375.6 460.5 L375.6 452.5 L375.7 444.5 L375.7 436.5 L375.8 428.5 L375.8 420.5 L375.9 412.5 L376.0 404.5 L376.0 396.5 L376.1 388.5 L376.2 380.5 L376.2 372.5 L376.3 364.5 L376.4 356.5 L376.5 348.5 L376.6 340.5 L376.6 332.5 L376.7 324.5 L376.8 316.5 L376.9 308.5 L377.0 300.5 L377.1 292.5 L377.2 284.5 L377.3 276.5 L377.4 268.5 L377.5 260.5 L377.7 252.5 L377.8 244.5 L377.9 236.5 L378.0 228.5 L378.0 227.0 M378.0 227.0 L378.0 235.0 L378.0 243.0 L378.0 251.0 L378.0 259.0 L378.0 267.0 L378.0 275.0 L378.0 283.0 L378.0 291.0 L378.1 299.0 L378.1 307.0 L378.1 315.0 L378.1 323.0 L378.1 331.0 L378.1 339.0 L378.1 347.0 L378.1 355.0 L378.1 363.0 L378.1 371.0 L378.1 379.0 L378.1 387.0 L378.1 395.0 L378.1 403.0 L378.1 411.0 L378.2 419.0 L378.2 427.0 L378.2 435.0 L378.2 443.0 L378.2 451.0 L378.2 459.0 L378.2 467.0 L378.2 475.0 L378.2 483.0 L378.2 491.0 L378.2 499.0 L378.2 507.0 L378.2 515.0 L378.2 523.0 L378.3 531.0 L378.3 539.0 L378.3 547.0 L378.3 555.0 L378.3 563.0 L378.3 571.0 L378.3 579.0 L378.3 587.0 L378.3 595.0 L378.3 603.0 L378.3 611.0 L378.3 619.0 L378.3 627.0 L378.4 635.0 L378.4 643.0 L378.4 651.0 L378.4 659.0 L378.4 667.0 L378.4 675.0 L378.4 683.0 L378.4 691.0 L378.4 699.0 L378.4 707.0 L378.4 715.0 L378.4 723.0 L378.4 731.0 L378.5 739.0 L378.5 747.0 L378.5 755.0 L378.5 763.0 L378.5 771.0 L378.5 779.0 L378.5 787.0 L378.5 795.0 L378.5 803.0 L378.5 811.0 L378.5 819.0 L378.5 827.0 L378.6 835.0 L378.6 843.0 L378.6 851.0 L378.6 859.0 L378.6 867.0 L378.6 875.0 L378.6 883.0 L378.6 891.0 L378.6 899.0 L378.6 907.0 L378.6 915.0 L378.6 923.0 L378.6 931.0 L378.7 939.0 L378.7 947.0 L378.7 955.0 L378.7 963.0 L378.7 971.0 L378.7 979.0 L378.7 987.0 L378.7 995.0 L378.7 1003.0 L378.7 1011.0 L378.7 1019.0 L378.8 1027.0 L378.8 1035.0 L378.8 1043.0 L378.8 1051.0 L378.8 1059.0 L378.8 1067.0 L378.8 1075.0 L378.8 1083.0 L378.8 1091.0 L378.9 1099.0 L378.9 1107.0 L378.9 1115.0 L378.9 1123.0 L378.9 1131.0 L378.9 1139.0 L378.9 1147.0 L378.9 1155.0 L379.0 1163.0 L379.0 1171.0 L379.0 1179.0 L379.0 1187.0 L379.0 1195.0 L379.1 1203.0 L379.1 1211.0 L379.1 1219.0 L379.1 1227.0 L379.2 1235.0 L379.2 1243.0 L379.2 1251.0 L379.3 1259.0 L379.3 1267.0 L379.4 1275.0 L379.4 1283.0 L379.5 1291.0 L379.5 1299.0 L379.6 1307.0 L379.6 1315.0 L379.7 1323.0 L379.7 1331.0 L379.8 1339.0 L379.8 1347.0 L379.9 1355.0 L380.0 1363.0 L380.0 1371.0 L380.1 1379.0 L380.2 1387.0 L380.2 1395.0 L380.3 1403.0 L380.4 1411.0 L380.4 1419.0 L380.5 1427.0 L380.6 1435.0 L380.7 1443.0 L380.7 1451.0 L380.8 1459.0 L380.9 1467.0 L381.0 1475.0 L381.1 1483.0 L381.2 1491.0 L381.2 1499.0 L381.3 1507.0 L381.4 1515.0 L381.5 1523.0 L381.6 1531.0 L381.7 1539.0 L381.8 1547.0 L381.9 1555.0 L382.0 1563.0 L382.1 1571.0 L382.1 1579.0 L382.2 1587.0 L382.3 1595.0 L382.4 1603.0 L382.5 1611.0 L382.6 1619.0 L382.7 1627.0 L382.8 1635.0 L382.9 1643.0 L383.0 1649.0"/>
</g>
<g stroke-width="9.4" stroke-linecap="round">
<line x1="1765.5" y1="223.3" x2="1952.5" y2="223.3" stroke="#808080"/>
<line x1="1765.5" y1="338.4" x2="1952.5" y2="338.4" stroke="#FF3333"/>
<line x1="1765.5" y1="453.5" x2="1952.5" y2="453.5" stroke="#2B2BFF"/>
<line x1="1765.5" y1="569.4" x2="1952.5" y2="569.4" stroke="#FF33FF"/>
<line x1="1765.5" y1="685.0" x2="1952.5" y2="685.0" stroke="#009E00"/>
<line x1="1765.5" y1="800.1" x2="1952.5" y2="800.1" stroke="#AEAE00"/>
</g>
<g font-family="'Liberation Serif', serif" font-weight="bold" fill="#000">
<text x="1975" y="252" font-size="84" word-spacing="5">1 A g<tspan font-size="49" dy="-41">-1</tspan></text>
<text x="1973" y="367" font-size="84" word-spacing="5">2 A g<tspan font-size="49" dy="-41">-1</tspan></text>
<text x="1973" y="482.6" font-size="84" word-spacing="5">3 A g<tspan font-size="49" dy="-41">-1</tspan></text>
<text x="1973" y="598" font-size="84" word-spacing="5">4 A g<tspan font-size="49" dy="-41">-1</tspan></text>
<text x="1973" y="713" font-size="84" word-spacing="5">5 A g<tspan font-size="49" dy="-41">-1</tspan></text>
<text x="1973" y="828.5" font-size="84" word-spacing="5">10 A g<tspan font-size="49" dy="-41">-1</tspan></text>
<text transform="translate(269.7 229.9) scale(1 1.04)" font-size="68" text-anchor="end">0.0</text>
<text transform="translate(269.7 521.7) scale(1 1.04)" font-size="68" text-anchor="end">-0.2</text>
<text transform="translate(269.7 813.5) scale(1 1.04)" font-size="68" text-anchor="end">-0.4</text>
<text transform="translate(269.7 1105.2) scale(1 1.04)" font-size="68" text-anchor="end">-0.6</text>
<text transform="translate(269.7 1397.0) scale(1 1.04)" font-size="68" text-anchor="end">-0.8</text>
<text transform="translate(269.7 1688.8) scale(1 1.04)" font-size="68" text-anchor="end">-1.0</text>
<text transform="translate(372.0 1775.3) scale(1 1.04)" font-size="68" text-anchor="middle">0</text>
<text transform="translate(859.0 1775.3) scale(1 1.04)" font-size="68" text-anchor="middle">100</text>
<text transform="translate(1346.0 1775.3) scale(1 1.04)" font-size="68" text-anchor="middle">200</text>
<text transform="translate(1833.0 1775.3) scale(1 1.04)" font-size="68" text-anchor="middle">300</text>
<text transform="translate(2320.0 1775.3) scale(1 1.04)" font-size="68" text-anchor="middle">400</text>
<text x="1322.4" y="1884.6" font-size="84" text-anchor="middle">Time (s)</text>
<text transform="translate(120 822.8) rotate(-90)" font-size="84" text-anchor="middle">Potential (V)</text>
</g>
</svg>
</body></html>
